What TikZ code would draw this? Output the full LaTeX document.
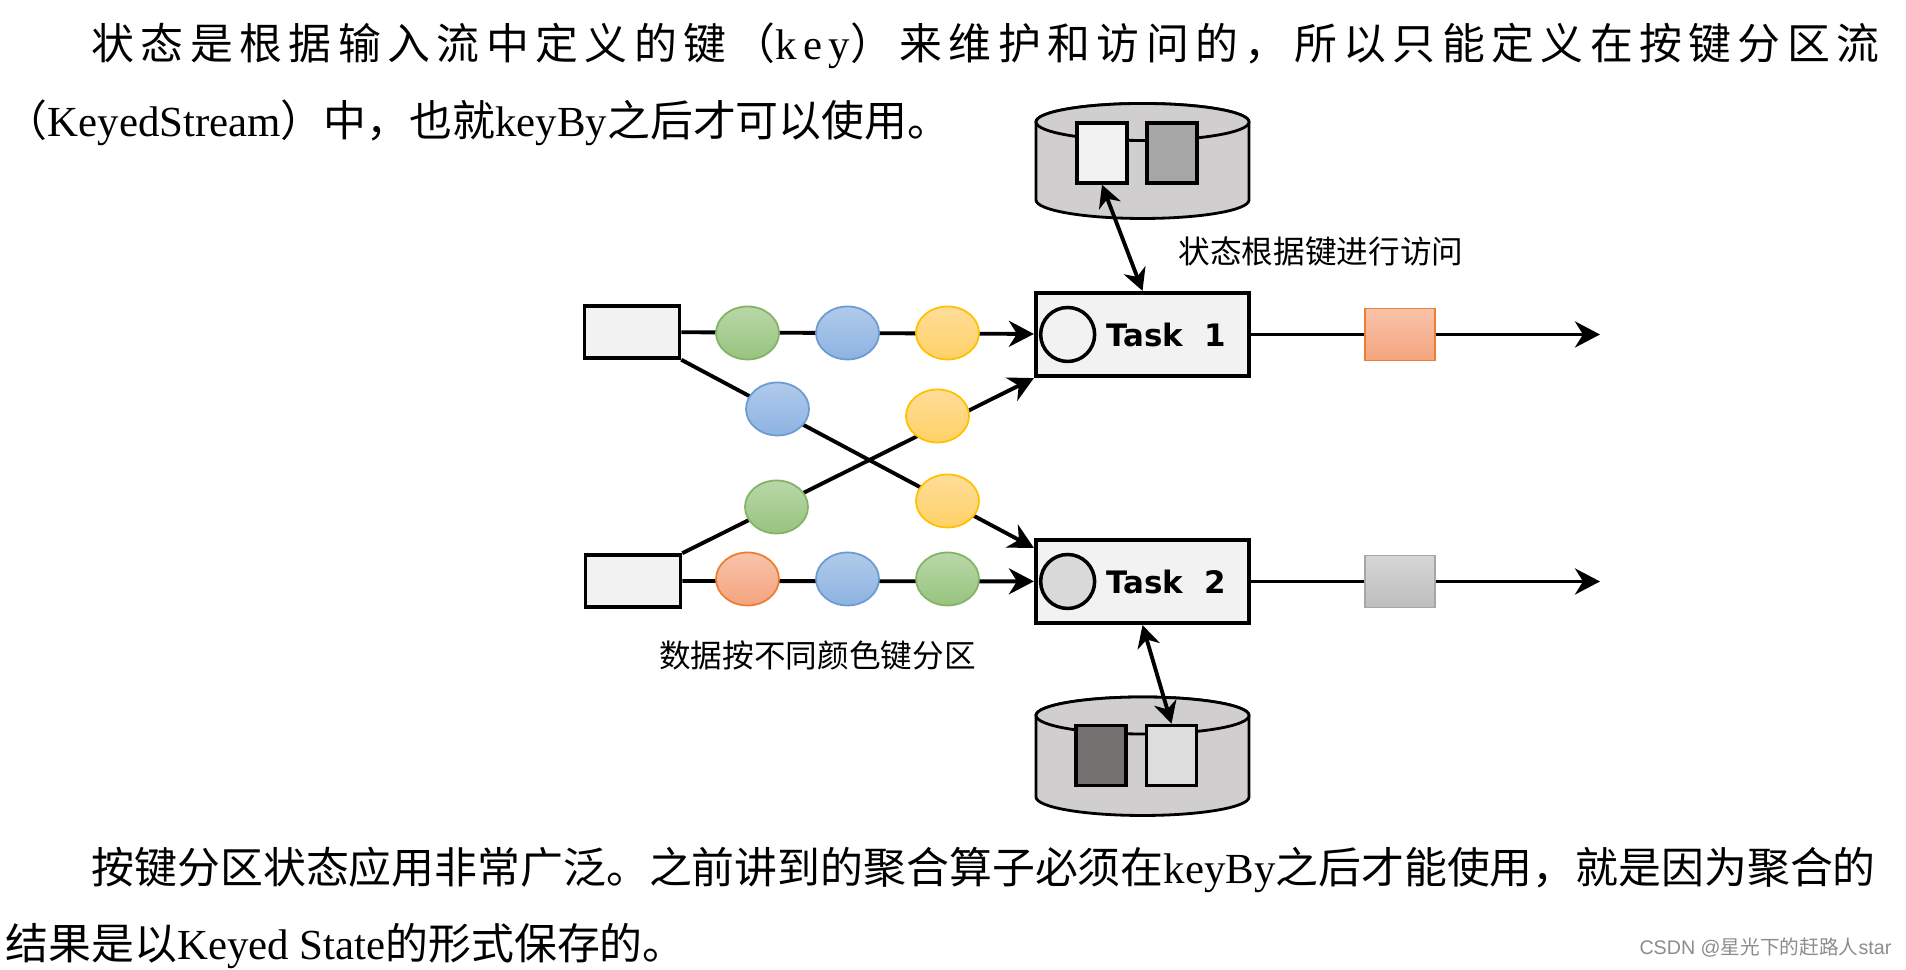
\documentclass[tikz,border=0pt]{standalone}
\usepackage{fontspec}
\setmainfont{Liberation Serif}
\newfontfamily\cjk{Noto Sans CJK SC}
\newfontfamily\cjkwide[LetterSpace=15]{Noto Sans CJK SC}
\newfontfamily\serifwide[LetterSpace=15]{Liberation Serif}
\newfontfamily\tasksans{DejaVu Sans}
\newfontfamily\marksans{Liberation Sans}
\usetikzlibrary{shapes.geometric,arrows.meta,positioning}
\definecolor{boxfill}{HTML}{F2F2F2}
\definecolor{cylfill}{HTML}{D0CECE}
\definecolor{keymid}{HTML}{A6A6A6}
\definecolor{keydark}{HTML}{767171}
\definecolor{keypale}{HTML}{DDDDDD}
\definecolor{slotgray}{HTML}{D9D9D9}
\definecolor{greenline}{HTML}{82B366}
\definecolor{greentop}{HTML}{B9D7A8}
\definecolor{greenbot}{HTML}{97C47E}
\definecolor{blueline}{HTML}{6C9BD2}
\definecolor{bluetop}{HTML}{B0CAEA}
\definecolor{bluebot}{HTML}{8DB3E2}
\definecolor{yellowline}{HTML}{FFC000}
\definecolor{yellowtop}{HTML}{FFDD99}
\definecolor{yellowbot}{HTML}{FFD166}
\definecolor{orangeline}{HTML}{ED7D31}
\definecolor{orangetop}{HTML}{F8C3AA}
\definecolor{orangebot}{HTML}{F4A47F}
\definecolor{grayline}{HTML}{A6A6A6}
\definecolor{graytop}{HTML}{D6D6D6}
\definecolor{graybot}{HTML}{BDBDBD}
\definecolor{markgray}{HTML}{8C8C8C}

\begin{document}
\begin{tikzpicture}[x=0.1mm,y=0.1mm,
  srcbox/.style={rectangle,draw=black,fill=boxfill,line width=1pt,minimum width=9.5mm,minimum height=5.2mm,inner sep=0pt},
  taskbox/.style={rectangle,draw=black,fill=boxfill,line width=1.2pt,minimum width=21.3mm,minimum height=8.3mm,inner sep=0pt},
  slot/.style={circle,draw=black,line width=1pt,minimum size=5.4mm,inner sep=0pt},
  tasklbl/.style={font=\tasksans\bfseries\fontsize{8.8pt}{10pt}\selectfont,inner sep=0pt},
  tok/.style={ellipse,line width=0.5pt,minimum width=6.3mm,minimum height=5.3mm,inner sep=0pt},
  gtok/.style={tok,draw=greenline,top color=greentop,bottom color=greenbot},
  btok/.style={tok,draw=blueline,top color=bluetop,bottom color=bluebot},
  ytok/.style={tok,draw=yellowline,top color=yellowtop,bottom color=yellowbot},
  otok/.style={tok,draw=orangeline,top color=orangetop,bottom color=orangebot},
  keysq/.style={rectangle,draw=black,line width=1pt,minimum width=5mm,minimum height=6mm,inner sep=0pt},
  outsq/.style={rectangle,line width=0.5pt,minimum width=7mm,minimum height=5.2mm,inner sep=0pt},
  cyl/.style={draw=black,fill=cylfill,line width=0.8pt},
  arr/.style={-{Stealth[length=2.5mm,width=2.6mm,inset=0.8mm]},line width=1.1pt},
  darr/.style={{Stealth[length=2.2mm,width=2.3mm,inset=0.7mm]}-{Stealth[length=2.2mm,width=2.3mm,inset=0.7mm]},line width=1.1pt},
  lbl/.style={font=\cjk\fontsize{9pt}{11pt}\selectfont,inner sep=0pt},
  para/.style={font=\fontsize{12.2pt}{14pt}\selectfont,inner sep=0pt,anchor=west}
]
\useasboundingbox (0,0) rectangle (1906,970);
\node[para] (p1) at (91,924) {{\cjkwide 状态是根据输入流中定义的键（}{\serifwide key}{\cjkwide ）来维护和访问的，所以只能定义在按键分区流}};
\node[para] (p2) at (4,847) {{\cjk （}KeyedStream{\cjk ）中，也就}keyBy{\cjk 之后才可以使用。}};
\node[para] (p3) at (91,100) {{\cjk 按键分区状态应用非常广泛。之前讲到的聚合算子必须在}keyBy{\cjk 之后才能使用，就是因为聚合的}};
\node[para] (p4) at (5,24) {{\cjk 结果是以}Keyed State{\cjk 的形式保存的。}};
\node[anchor=east,inner sep=0pt,text=markgray,font=\marksans\fontsize{5.6pt}{7pt}\selectfont] (mark) at (1892,22) {CSDN @{\cjk 星光下的赶路人}star};

\node[srcbox] (src1) at (632,638) {};
\node[srcbox] (src2) at (633,389) {};
\node[taskbox] (task1) at (1142.5,635.5) {};
\node[taskbox] (task2) at (1142.5,388.5) {};
\node[slot,fill=boxfill,right=0.5mm of task1.west] (slot1) {};
\node[slot,fill=slotgray,right=0.5mm of task2.west] (slot2) {};
\node[tasklbl,right=0.9mm of slot1] (tname1) {Task\ \ 1};
\node[tasklbl,right=0.9mm of slot2] (tname2) {Task\ \ 2};

\draw[arr] (src1) -- (task1);
\draw[arr] (src2) -- (task2);
\draw[arr] (src1.south east) -- ([yshift=-1mm]task2.north west);
\draw[arr] (src2.north east) -- (task1.south west);

\node[gtok] (t1g) at (747.5,637) {};
\node[btok] (t1b) at (847.5,637) {};
\node[ytok] (t1y) at (947.5,637) {};
\node[otok] (t2o) at (747.5,391) {};
\node[btok] (t2b) at (847.5,391) {};
\node[gtok] (t2g) at (947.5,391) {};
\node[btok] (xb) at (777.5,561) {};
\node[ytok] (xy1) at (937.5,554) {};
\node[gtok] (xg) at (776.5,463) {};
\node[ytok] (xy2) at (947.5,469) {};

\node[outsq,draw=orangeline,top color=orangetop,bottom color=orangebot] (res1) at (1400,635.5) {};
\node[outsq,draw=grayline,top color=graytop,bottom color=graybot] (res2) at (1400,388.5) {};
\coordinate (out1) at (1600,635.5);
\coordinate (out2) at (1600,388.5);
\draw[line width=1.1pt] (task1) -- (res1);
\draw[arr] (res1) -- (out1);
\draw[line width=1.1pt] (task2) -- (res2);
\draw[arr] (res2) -- (out2);

\draw[cyl] (1036,848) -- (1036,770) arc[start angle=180,end angle=360,x radius=106.5,y radius=18.5] -- (1249,848) arc[start angle=0,end angle=180,x radius=106.5,y radius=18.5] -- cycle;
\draw[cyl] (1142.5,848) ellipse[x radius=106.5,y radius=18.5];
\node[keysq,fill=boxfill] (sqa) at (1102,817) {};
\node[keysq,fill=keymid] (sqb) at (1172,817) {};

\draw[cyl] (1036,254.5) -- (1036,173) arc[start angle=180,end angle=360,x radius=106.5,y radius=18.5] -- (1249,254.5) arc[start angle=0,end angle=180,x radius=106.5,y radius=18.5] -- cycle;
\draw[cyl] (1142.5,254.5) ellipse[x radius=106.5,y radius=18.5];
\node[keysq,fill=keydark] (sqc) at (1101,214.5) {};
\node[keysq,fill=keypale] (sqd) at (1171.5,214.5) {};

\draw[darr] (sqa.south) -- (task1.north);
\draw[darr] (task2.south) -- (sqd.north);

\node[lbl,anchor=west] (access) at (1178,718) {状态根据键进行访问};
\node[lbl] (part) at (817.5,315) {数据按不同颜色键分区};
\end{tikzpicture}
\end{document}
